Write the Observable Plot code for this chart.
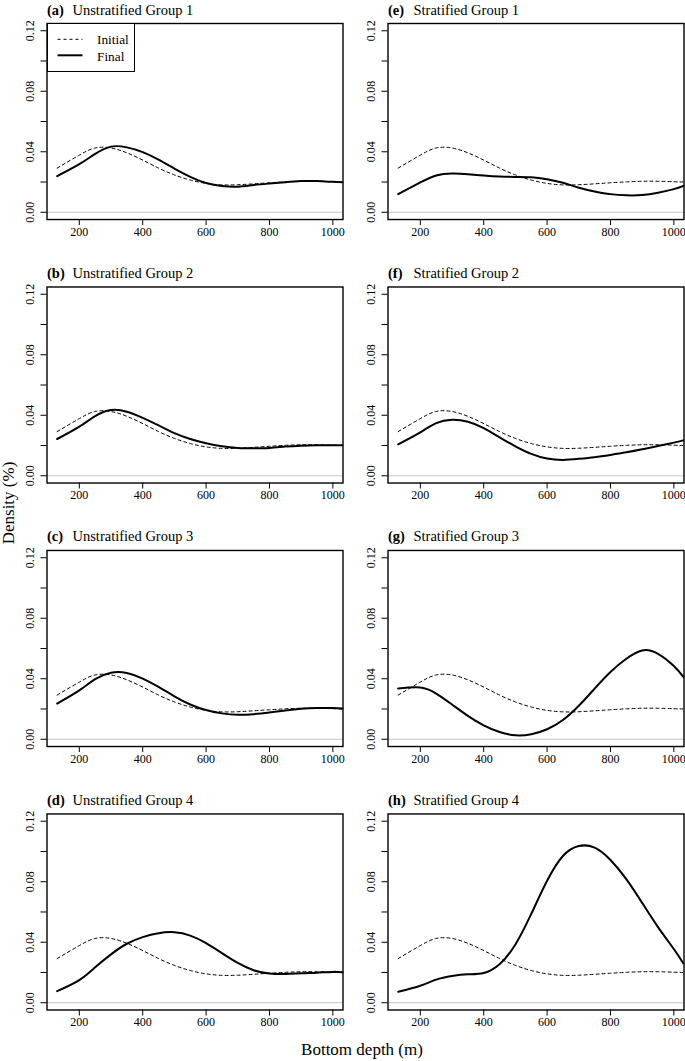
<!DOCTYPE html>
<html>
<head>
<meta charset="utf-8">
<script src="https://cdn.jsdelivr.net/npm/d3@7"></script>
<script src="https://cdn.jsdelivr.net/npm/@observablehq/plot@0.6"></script>
<style>
  html, body { margin: 0; padding: 0; background: #fff; }
  #wrap { position: relative; width: 685px; height: 1061px; font-family: "Liberation Serif", "Times New Roman", Times, serif; color: #000; }
  #wrap svg.chart { position: absolute; left: 0; top: 0; }
  .lbl { position: absolute; font-size: 17px; line-height: 17px; white-space: nowrap; }
  #ylab { left: 7.8px; top: 503px; transform: translate(-50%, -50%) rotate(-90deg); }
  #xlab { left: 362px; top: 1040.5px; transform: translateX(-50%); }
  #legend { position: absolute; left: 46.5px; top: 23px; width: 88px; height: 48.5px; box-sizing: border-box; border: 1.4px solid #000; background: #fff; }
  #legend svg { position: absolute; left: -1.4px; top: -1.4px; }
</style>
</head>
<body>
<div id="wrap"></div>
<script>
// ---- data ----
const xTicks = [200, 400, 600, 800, 1000];
const yTicks = [0, 0.02, 0.04, 0.06, 0.08, 0.10, 0.12];
const yTickLabels = ["0.00", "", "0.04", "", "0.08", "", "0.12"];

const depth = [130, 200, 250, 300, 350, 400, 450, 500, 550, 600, 650, 700, 750, 800, 850, 900, 950, 1000, 1030];

const initialDensity = [0.0292, 0.0378, 0.0425, 0.0425, 0.0393, 0.0345, 0.0292, 0.0247, 0.0213, 0.0191, 0.0181, 0.0182, 0.0188, 0.0195, 0.0201, 0.0205, 0.0205, 0.0202, 0.0200];

const finalA = [0.0239, 0.0318, 0.0386, 0.0434, 0.0429, 0.0398, 0.0348, 0.0289, 0.0234, 0.0193, 0.0173, 0.0169, 0.0180, 0.0190, 0.0199, 0.0206, 0.0206, 0.0201, 0.0199];
const finalB = [0.0243, 0.0325, 0.0394, 0.0434, 0.0423, 0.0383, 0.0333, 0.0282, 0.0243, 0.0215, 0.0195, 0.0184, 0.0182, 0.0184, 0.0193, 0.0199, 0.0201, 0.0201, 0.0201];
const finalC = [0.0236, 0.0323, 0.0397, 0.0440, 0.0438, 0.0401, 0.0346, 0.0284, 0.0230, 0.0193, 0.0171, 0.0162, 0.0166, 0.0177, 0.0190, 0.0201, 0.0206, 0.0206, 0.0204];
const finalD = [0.0077, 0.0150, 0.0234, 0.0320, 0.0390, 0.0434, 0.0460, 0.0466, 0.0444, 0.0394, 0.0328, 0.0263, 0.0215, 0.0193, 0.0190, 0.0195, 0.0199, 0.0204, 0.0201];
const finalE = [0.0120, 0.0197, 0.0243, 0.0256, 0.0252, 0.0243, 0.0236, 0.0234, 0.0232, 0.0219, 0.0195, 0.0162, 0.0138, 0.0120, 0.0112, 0.0114, 0.0129, 0.0153, 0.0175];
const finalF = [0.0208, 0.0287, 0.0348, 0.0370, 0.0357, 0.0315, 0.0254, 0.0195, 0.0145, 0.0114, 0.0105, 0.0112, 0.0123, 0.0138, 0.0155, 0.0175, 0.0197, 0.0219, 0.0234];
const finalG = [0.0335, 0.0342, 0.0302, 0.0230, 0.0155, 0.0092, 0.0048, 0.0026, 0.0033, 0.0066, 0.0127, 0.0221, 0.0335, 0.0445, 0.0532, 0.0587, 0.0565, 0.0484, 0.0412];
const finalH = [0.0072, 0.0112, 0.0153, 0.0177, 0.0188, 0.0197, 0.0255, 0.0385, 0.0587, 0.0806, 0.0970, 0.1036, 0.1025, 0.0944, 0.0817, 0.0660, 0.0500, 0.0355, 0.0260];

const panelTags = ["(a)", "(b)", "(c)", "(d)", "(e)", "(f)", "(g)", "(h)"];
const panelNames = ["Unstratified Group 1", "Unstratified Group 2", "Unstratified Group 3", "Unstratified Group 4",
                    "Stratified Group 1", "Stratified Group 2", "Stratified Group 3", "Stratified Group 4"];
const panelCols = ["Unstratified", "Unstratified", "Unstratified", "Unstratified", "Stratified", "Stratified", "Stratified", "Stratified"];
const panelRows = [1, 2, 3, 4, 1, 2, 3, 4];
const seriesNames = ["Initial", "Final"];

// ---- build tables ----
const finals = [finalA, finalB, finalC, finalD, finalE, finalF, finalG, finalH];
const panels = panelTags.map((tag, i) => ({tag, name: panelNames[i], col: panelCols[i], row: panelRows[i]}));
const initialRows = panels.flatMap(p => depth.map((d, j) => ({col: p.col, row: p.row, depth: d, density: initialDensity[j]})));
const finalRows = panels.flatMap((p, i) => depth.map((d, j) => ({col: p.col, row: p.row, depth: d, density: finals[i][j]})));
const yLabelMap = new Map(yTicks.map((t, i) => [t, yTickLabels[i]]));
const serif = '"Liberation Serif", "Times New Roman", Times, serif';

const chart = Plot.plot({
  width: 685,
  height: 1061,
  marginLeft: 46.5,
  marginRight: 1.5,
  marginTop: 23,
  marginBottom: 51.5,
  style: {fontFamily: serif, background: "#fff", color: "#000", overflow: "visible"},
  fx: {domain: ["Unstratified", "Stratified"], axis: null, label: null, paddingInner: 0.132, paddingOuter: 0, round: false},
  fy: {domain: [1, 2, 3, 4], axis: null, label: null, paddingInner: 0.256, paddingOuter: 0, round: false},
  x: {domain: [98, 1032]},
  y: {domain: [-0.0048, 0.1248]},
  marks: [
    Plot.ruleY([0], {stroke: "#c4c4c4", strokeWidth: 1}),
    Plot.line(initialRows, {x: "depth", y: "density", fx: "col", fy: "row", stroke: "#000", strokeWidth: 1, strokeDasharray: "3,3", curve: "natural"}),
    Plot.line(finalRows, {x: "depth", y: "density", fx: "col", fy: "row", stroke: "#000", strokeWidth: 2, curve: "natural"}),
    Plot.frame({stroke: "#000", strokeWidth: 1.4}),
    Plot.axisX({ticks: xTicks, tickFormat: d => String(d), tickSize: 6, tickPadding: 1.5, fontSize: 12, fontFamily: serif, facetAnchor: null, label: null}),
    Plot.axisY({ticks: yTicks, tickFormat: d => yLabelMap.get(d) ?? "", tickRotate: -90, tickSize: 6, tickPadding: 7.5, fontSize: 12, fontFamily: serif, facetAnchor: null, label: null}),
    Plot.text(panels, {fx: "col", fy: "row", frameAnchor: "top-left", text: "tag", fontWeight: "bold", fontSize: 14.5, fontFamily: serif, textAnchor: "start", lineAnchor: "bottom", dy: -9}),
    Plot.text(panels, {fx: "col", fy: "row", frameAnchor: "top-left", text: "name", fontSize: 14.5, fontFamily: serif, textAnchor: "start", lineAnchor: "bottom", dy: -9, dx: 25.5})
  ]
});
chart.classList.add("chart");

const wrap = document.getElementById("wrap");
wrap.appendChild(chart);

// axis titles
const ylab = document.createElement("div");
ylab.className = "lbl"; ylab.id = "ylab"; ylab.textContent = "Density (%)";
wrap.appendChild(ylab);
const xlab = document.createElement("div");
xlab.className = "lbl"; xlab.id = "xlab"; xlab.textContent = "Bottom depth (m)";
wrap.appendChild(xlab);

// legend inside panel (a)
const legend = document.createElement("div");
legend.id = "legend";
const ns = "http://www.w3.org/2000/svg";
const lsvg = document.createElementNS(ns, "svg");
lsvg.setAttribute("width", 88); lsvg.setAttribute("height", 49);
const rowsY = [16.3, 32.3];
const baseY = [21.3, 37.7];
seriesNames.forEach((name, i) => {
  const ln = document.createElementNS(ns, "line");
  ln.setAttribute("x1", 11.5); ln.setAttribute("x2", 36.5);
  ln.setAttribute("y1", rowsY[i]); ln.setAttribute("y2", rowsY[i]);
  ln.setAttribute("stroke", "#000");
  ln.setAttribute("stroke-width", i === 0 ? 1 : 2);
  if (i === 0) ln.setAttribute("stroke-dasharray", "3,3");
  lsvg.appendChild(ln);
  const tx = document.createElementNS(ns, "text");
  tx.setAttribute("x", 51); tx.setAttribute("y", baseY[i]);
  tx.setAttribute("font-family", serif);
  tx.setAttribute("font-size", 13.3);
  tx.textContent = name;
  lsvg.appendChild(tx);
});
legend.appendChild(lsvg);
wrap.appendChild(legend);
</script>
</body>
</html>
